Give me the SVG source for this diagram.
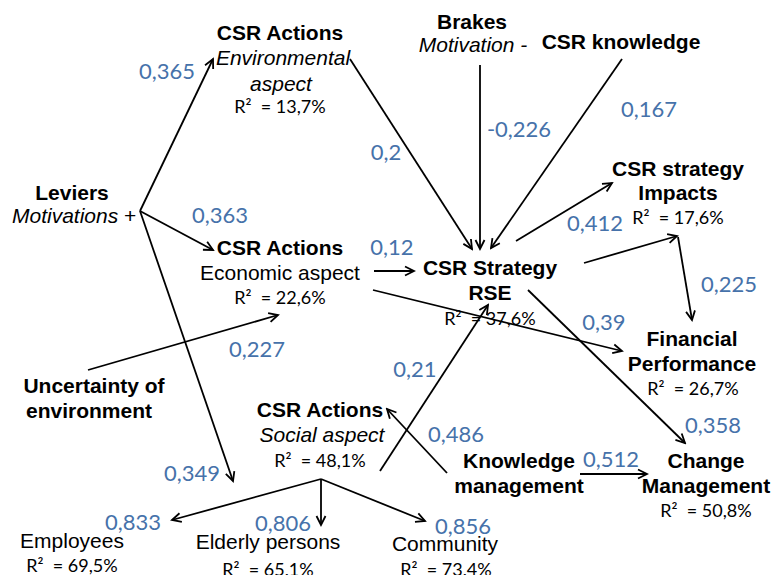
<svg xmlns="http://www.w3.org/2000/svg" width="773" height="575" viewBox="0 0 773 575">
<defs>
<marker id="ah" viewBox="0 0 12 12" refX="10" refY="6" markerWidth="12" markerHeight="12" markerUnits="userSpaceOnUse" orient="auto">
<path d="M1,1.5 L10,6 L1,10.5" fill="none" stroke="#000" stroke-width="1.8" stroke-linejoin="miter"/>
</marker>
<style>
.b{font-family:"Liberation Sans",Arial,sans-serif;font-weight:bold;font-size:21px;fill:#000;text-anchor:middle}
.r{font-family:"Liberation Sans",Arial,sans-serif;font-size:21px;fill:#000;text-anchor:middle}
.i{font-family:"Liberation Sans",Arial,sans-serif;font-style:italic;font-size:21px;fill:#000;text-anchor:middle}
.q{font-family:Lato,"Open Sans",sans-serif;font-size:18px;fill:#000;text-anchor:middle}
.n{font-family:Lato,"Open Sans",sans-serif;font-size:22px;fill:#4672AA;text-anchor:middle}
.c line{stroke:#000;stroke-width:1.8;fill:none;marker-end:url(#ah)}
</style>
</defs>
<rect width="773" height="575" fill="#fff"/>

<g class="c" id="connectors">
<line x1="140" y1="211" x2="213" y2="59"/>
<line x1="140" y1="211" x2="213" y2="250"/>
<line x1="140" y1="211" x2="233" y2="481"/>
<line x1="350" y1="59" x2="472" y2="249"/>
<line x1="480" y1="65" x2="480" y2="249"/>
<line x1="622" y1="59" x2="491" y2="248"/>
<line x1="374" y1="271" x2="414" y2="271"/>
<line x1="516" y1="241" x2="612" y2="183"/>
<line x1="584" y1="263" x2="677" y2="236"/>
<line x1="678" y1="237" x2="692" y2="320"/>
<line x1="373" y1="290" x2="622" y2="351"/>
<line x1="528" y1="290" x2="685" y2="443"/>
<line x1="88" y1="370" x2="278" y2="315"/>
<line x1="380" y1="471" x2="488" y2="305"/>
<line x1="447" y1="473" x2="387" y2="409"/>
<line x1="580" y1="474" x2="647" y2="474"/>
<line x1="321" y1="479" x2="172" y2="520"/>
<line x1="321" y1="479" x2="321" y2="525"/>
<line x1="321" y1="479" x2="425" y2="521"/>
</g>

<g id="env">
<text class="b" x="280" y="40">CSR Actions</text>
<text class="i" x="283" y="65">Environmental</text>
<text class="i" x="281" y="91">aspect</text>
<text class="q" x="280" y="113" xml:space="preserve">R²  = 13,7%</text>
</g>
<g id="brakes">
<text class="b" x="472" y="29">Brakes</text>
<text class="i" x="473" y="52">Motivation -</text>
</g>
<g id="knowledge">
<text class="b" x="621" y="49">CSR knowledge</text>
</g>
<g id="leviers">
<text class="b" x="72" y="200">Leviers</text>
<text class="r" x="12" y="223" style="text-anchor:start"><tspan font-style="italic">Motivations</tspan> +</text>
</g>
<g id="eco">
<text class="b" x="280" y="255">CSR Actions</text>
<text class="r" x="280" y="280">Economic aspect</text>
<text class="q" x="280" y="304" xml:space="preserve">R²  = 22,6%</text>
</g>
<g id="strategy">
<text class="b" x="490" y="275">CSR Strategy</text>
<text class="b" x="490" y="300">RSE</text>
<text class="q" x="490" y="325" xml:space="preserve">R²  = 37,6%</text>
</g>
<g id="impacts">
<text class="b" x="678" y="176">CSR strategy</text>
<text class="b" x="678" y="200">Impacts</text>
<text class="q" x="678" y="224" xml:space="preserve">R²  = 17,6%</text>
</g>
<g id="financial">
<text class="b" x="692" y="346">Financial</text>
<text class="b" x="692" y="371">Performance</text>
<text class="q" x="693" y="395" xml:space="preserve">R²  = 26,7%</text>
</g>
<g id="change">
<text class="b" x="706" y="468">Change</text>
<text class="b" x="706" y="493">Management</text>
<text class="q" x="706" y="517" xml:space="preserve">R²  = 50,8%</text>
</g>
<g id="km">
<text class="b" x="519" y="468">Knowledge</text>
<text class="b" x="519" y="493">management</text>
</g>
<g id="uncertainty">
<text class="b" x="94" y="393">Uncertainty of</text>
<text class="b" x="89" y="418">environment</text>
</g>
<g id="social">
<text class="b" x="320" y="417">CSR Actions</text>
<text class="i" x="322" y="442">Social aspect</text>
<text class="q" x="320" y="467" xml:space="preserve">R²  = 48,1%</text>
</g>
<g id="employees">
<text class="r" x="72" y="548">Employees</text>
<text class="q" x="72" y="572" xml:space="preserve">R²  = 69,5%</text>
</g>
<g id="elderly">
<text class="r" x="268" y="549">Elderly persons</text>
<text class="q" x="268" y="576" xml:space="preserve">R²  = 65,1%</text>
</g>
<g id="community">
<text class="r" x="445" y="551">Community</text>
<text class="q" x="446" y="576" xml:space="preserve">R²  = 73,4%</text>
</g>

<g id="coefficients">
<text class="n" x="167" y="79">0,365</text>
<text class="n" x="386" y="160">0,2</text>
<text class="n" x="519" y="137">-0,226</text>
<text class="n" x="649" y="117">0,167</text>
<text class="n" x="220" y="223">0,363</text>
<text class="n" x="392" y="255">0,12</text>
<text class="n" x="595" y="231">0,412</text>
<text class="n" x="729" y="292">0,225</text>
<text class="n" x="604" y="330">0,39</text>
<text class="n" x="257" y="357">0,227</text>
<text class="n" x="415" y="377">0,21</text>
<text class="n" x="456" y="442">0,486</text>
<text class="n" x="713" y="433">0,358</text>
<text class="n" x="611" y="467">0,512</text>
<text class="n" x="192" y="481">0,349</text>
<text class="n" x="133" y="530">0,833</text>
<text class="n" x="283" y="531">0,806</text>
<text class="n" x="463" y="534">0,856</text>
</g>
</svg>
